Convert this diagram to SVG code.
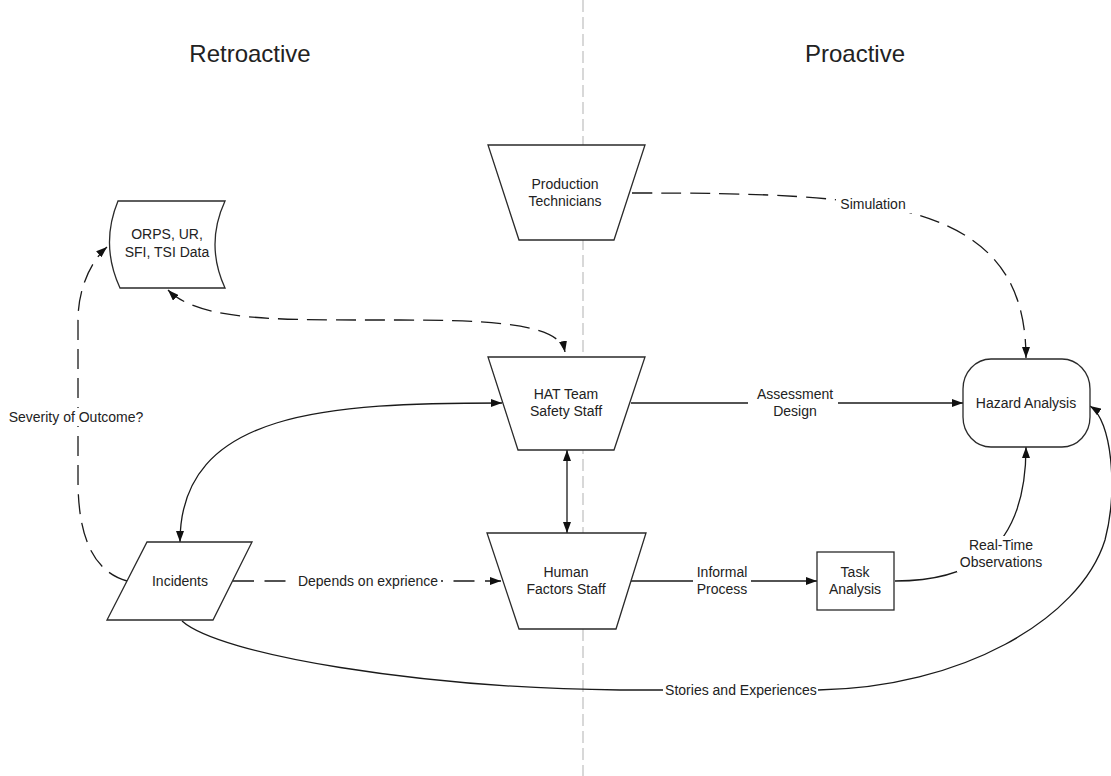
<svg xmlns="http://www.w3.org/2000/svg" width="1111" height="776" viewBox="0 0 1111 776">
<style>
  .node{fill:#fff;stroke:#2a2a2a;stroke-width:1.3}
  .t{font-family:"Liberation Sans",Arial,sans-serif;font-size:14px;fill:#222;text-anchor:middle}
  .title{font-family:"Liberation Sans",Arial,sans-serif;font-size:24px;fill:#222;text-anchor:middle}
  .c{fill:none;stroke:#1a1a1a;stroke-width:1.3}
  .d{stroke-dasharray:20 9}
  .bg{fill:#fff;stroke:none}
</style>
<defs>
  <marker id="arr" viewBox="0 0 11 8" refX="11" refY="4" markerWidth="11" markerHeight="8" markerUnits="userSpaceOnUse" orient="auto-start-reverse">
    <path d="M0,0 L11,4 L0,8 Z" fill="#111" stroke="none"/>
  </marker>
</defs>
<rect width="1111" height="776" fill="#fff"/>
<line x1="583" y1="0" x2="583" y2="776" stroke="#c4c4c4" stroke-width="1.3" stroke-dasharray="12 5"/>
<text class="title" x="250" y="62">Retroactive</text>
<text class="title" x="855" y="62">Proactive</text>

<g id="connectors">
  <path class="c d" d="M632,193 C880,193 1026,200 1026,358" marker-end="url(#arr)"/>
  <path class="c d" d="M168,290 C200,322 280,320 400,320 C500,320 560,325 565,352" marker-start="url(#arr)" marker-end="url(#arr)"/>
  <path class="c" d="M502,403 C330,403 180,410 180,542" marker-start="url(#arr)" marker-end="url(#arr)"/>
  <path class="c" d="M567,450 L567,533" marker-start="url(#arr)" marker-end="url(#arr)"/>
  <path class="c d" d="M127,581 C95,572 78,540 78,480 L78,320 C78,290 90,262 107,247" marker-end="url(#arr)"/>
  <path class="c" style="stroke-dasharray:21 10.5" d="M233,581 L501,581" marker-end="url(#arr)"/>
  <path class="c" d="M631,403 L963,403" marker-end="url(#arr)"/>
  <path class="c" d="M631,581 L817,581" marker-end="url(#arr)"/>
  <path class="c" d="M895,581 C960,581 1026,560 1026,447" marker-end="url(#arr)"/>
  <path class="c" d="M182,621 C220,655 420,688 620,690 L818,690 C960,688 1080,620 1105,540 C1118,490 1112,420 1090,406" marker-end="url(#arr)"/>

  <rect class="bg" x="836" y="196" width="76" height="17"/>
  <text class="t" x="873" y="209">Simulation</text>
  <rect class="bg" x="8" y="408" width="137" height="18"/>
  <text class="t" x="76" y="422">Severity of Outcome?</text>
  <rect class="bg" x="293" y="572" width="148" height="18"/>
  <text class="t" x="368" y="586">Depends on exprience</text>
  <rect class="bg" x="748" y="385" width="90" height="36"/>
  <text class="t" x="795" y="399">Assessment</text>
  <text class="t" x="795" y="416">Design</text>
  <rect class="bg" x="693" y="563" width="58" height="36"/>
  <text class="t" x="722" y="577">Informal</text>
  <text class="t" x="722" y="594">Process</text>
  <rect class="bg" x="957" y="536" width="89" height="36"/>
  <text class="t" x="1001" y="550">Real-Time</text>
  <text class="t" x="1001" y="567">Observations</text>
  <rect class="bg" x="663" y="682" width="155" height="18"/>
  <text class="t" x="741" y="695">Stories and Experiences</text>
</g>

<g id="production-technicians">
  <polygon class="node" points="488,145 645,145 614,240 519,240"/>
  <text class="t" x="565" y="189">Production</text>
  <text class="t" x="565" y="206">Technicians</text>
</g>
<g id="orps-data">
  <path class="node" d="M118,201 L225,201 Q205,244.5 225,288 L120,288 Q100,244.5 118,201 Z"/>
  <text class="t" x="167" y="239">ORPS, UR,</text>
  <text class="t" x="167" y="257">SFI, TSI Data</text>
</g>
<g id="hat-team">
  <polygon class="node" points="488,357 645,357 614,450 518,450"/>
  <text class="t" x="566" y="399">HAT Team</text>
  <text class="t" x="566" y="416">Safety Staff</text>
</g>
<g id="human-factors">
  <polygon class="node" points="487,533 646,533 616,629 519,629"/>
  <text class="t" x="566" y="577">Human</text>
  <text class="t" x="566" y="594">Factors Staff</text>
</g>
<g id="incidents">
  <polygon class="node" points="147,542 252,542 213,620 107,620"/>
  <text class="t" x="180" y="586">Incidents</text>
</g>
<g id="task-analysis">
  <rect class="node" x="817" y="552" width="77" height="58"/>
  <text class="t" x="855" y="577">Task</text>
  <text class="t" x="855" y="594">Analysis</text>
</g>
<g id="hazard-analysis">
  <rect class="node" x="963" y="359" width="127" height="88" rx="28" ry="30"/>
  <text class="t" x="1026" y="408">Hazard Analysis</text>
</g>
</svg>
